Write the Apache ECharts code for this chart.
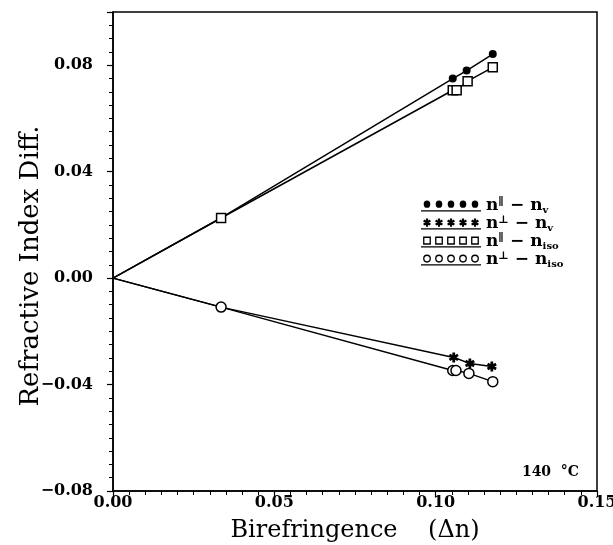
<!DOCTYPE html>
<html><head><meta charset="utf-8">
<script src="https://cdn.jsdelivr.net/npm/echarts@6/dist/echarts.min.js"></script>
<style>html,body{margin:0;padding:0;background:#fff}#c{width:613px;height:545px}</style>
</head><body><div id="c"></div>
<script>
// Data
const parNvX  = [0, 0.0335, 0.1053, 0.1096, 0.1177];
const parNvY  = [0, 0.0226, 0.0750, 0.0780, 0.0842];
const perpNvX = [0, 0.0335, 0.1056, 0.1106, 0.1174];
const perpNvY = [0, -0.0109, -0.0298, -0.0321, -0.0332];
const parIsoX = [0, 0.0335, 0.1053, 0.1065, 0.1099, 0.1177];
const parIsoY = [0, 0.0226, 0.0706, 0.0706, 0.0740, 0.0792];
const perpIsoX = [0, 0.0335, 0.1053, 0.1063, 0.1103, 0.1177];
const perpIsoY = [0, -0.0109, -0.0347, -0.0347, -0.0358, -0.0389];
const seriesNames = ['s1','s2','s3','s4'];
const xTitle = 'Birefringence    (\u0394n)';
const yTitle = 'Refractive Index Diff.';
const tempLabel = '140  \u00B0C';

const serif = 'DejaVu Serif';
const W = 1.4; // asterisk arm half-width
function starPath(cx, cy, s){
  const arms = [0, 60, -60].map(a => {
    const r = a*Math.PI/180, d=[Math.sin(r), -Math.cos(r)], p=[Math.cos(r), Math.sin(r)];
    const pt=(u,v)=>`${(cx+(d[0]*u+p[0]*v)*s).toFixed(3)},${(cy+(d[1]*u+p[1]*v)*s).toFixed(3)}`;
    return `M${pt(-5,-W)}L${pt(5,-W)}L${pt(5,W)}L${pt(-5,W)}Z`;
  });
  return arms.join(' ');
}
const star = 'path://' + starPath(0,0,1);

function mk(xs, ys){
  return xs.map((x,i)=> i===0 ? {value:[x, ys[i]], symbol:'none'} : [x, ys[i]]);
}
// legend icons: five markers with an underline
function rowIcon(kind){
  let p = '';
  const h = 6.5;
  for (let k=0;k<5;k++){
    const cx = 10 + k*20, cy = 6.5;
    if (kind==='fc') p += `M${cx-5.5},${cy}a5.5,5.5 0 1,0 11,0a5.5,5.5 0 1,0 -11,0Z `;
    if (kind==='oc') p += `M${cx-h},${cy}a${h},${h} 0 1,0 ${2*h},0a${h},${h} 0 1,0 ${-2*h},0Z M${cx-4.3},${cy}a4.3,4.3 0 1,1 8.6,0a4.3,4.3 0 1,1 -8.6,0Z `;
    if (kind==='sq') p += `M${cx-h},${cy-h}h${2*h}v${2*h}h${-2*h}Z M${cx-4.3},${cy-4.3}v8.6h8.6v-8.6Z `;
    if (kind==='st') p += starPath(cx, cy, 1.3) + ' ';
  }
  p += 'M0,15.5L100,15.5L100,17.5L0,17.5Z';
  return 'path://' + p;
}
const labels = {
  s1: '{n|n}{sup|\u2225}{t| \u2212 n}{sub|v}',
  s2: '{n|n}{sup|\u22A5}{t| \u2212 n}{sub|v}',
  s3: '{n|n}{sup|\u2225}{t| \u2212 n}{sub|iso}',
  s4: '{n|n}{sup|\u22A5}{t| \u2212 n}{sub|iso}'
};

const chart = echarts.init(document.getElementById('c'), null, {renderer:'canvas'});
const lineStyle = {color:'#000', width:1.5};
const fmt = v => v.toFixed(2).replace('-', '\u2212');
chart.setOption({
  animation:false,
  backgroundColor:'#fff',
  grid:{left:113, right:16, top:12, bottom:54, show:true, borderColor:'#000', borderWidth:1.5,
    outerBoundsMode:'none', containLabel:false},
  xAxis:{
    type:'value', min:0, max:0.15, interval:0.05,
    name:xTitle, nameLocation:'middle', nameGap:28,
    nameTextStyle:{fontFamily:serif, fontSize:24, color:'#000'},
    axisLine:{onZero:false, lineStyle:{color:'#000', width:1.5}},
    axisTick:{inside:false, length:6, lineStyle:{color:'#000', width:1.2}},
    minorTick:{show:true, splitNumber:10, length:4, lineStyle:{color:'#000', width:1}},
    axisLabel:{fontFamily:serif, fontWeight:'bold', fontSize:16, color:'#000', margin:4,
      formatter:fmt},
    splitLine:{show:false}
  },
  yAxis:{
    type:'value', min:-0.08, max:0.10, interval:0.04,
    axisLine:{onZero:false, lineStyle:{color:'#000', width:1.5}},
    axisTick:{inside:false, length:6, lineStyle:{color:'#000', width:1.2}},
    minorTick:{show:true, splitNumber:8, length:4, lineStyle:{color:'#000', width:1}},
    axisLabel:{fontFamily:serif, fontWeight:'bold', fontSize:16, color:'#000', margin:20,
      showMaxLabel:false, formatter:fmt},
    splitLine:{show:false}
  },
  legend:{
    orient:'vertical', left:416, top:192, itemWidth:60, itemHeight:11, itemGap:0,
    symbolKeepAspect:false,
    data:[
      {name:'s1', icon:rowIcon('fc')},
      {name:'s2', icon:rowIcon('st')},
      {name:'s3', icon:rowIcon('sq')},
      {name:'s4', icon:rowIcon('oc')}
    ],
    itemStyle:{color:'#000', borderWidth:0},
    formatter:name=>labels[name],
    textStyle:{color:'#000', fontFamily:serif, fontWeight:'bold', fontSize:17, padding:[0,0,0,0],
      rich:{
        n:{fontFamily:serif, fontWeight:'bold', fontSize:17, color:'#000', lineHeight:18},
        t:{fontFamily:serif, fontWeight:'bold', fontSize:17, color:'#000', lineHeight:18},
        sup:{fontFamily:serif, fontWeight:'bold', fontSize:11, color:'#000', verticalAlign:'top', lineHeight:12},
        sub:{fontFamily:serif, fontWeight:'bold', fontSize:10, color:'#000', verticalAlign:'bottom', lineHeight:10}
      }}
  },
  graphic:[
    {type:'text', right:34, top:465, style:{text:tempLabel, fontFamily:serif, fontWeight:'bold', fontSize:14, fill:'#000'}},
    {type:'text', x:31, y:266, rotation:Math.PI/2,
      style:{text:yTitle, fontFamily:serif, fontSize:26, fill:'#000', align:'center', verticalAlign:'middle'}}
  ],
  series:[
    {name:'s1', type:'line', data:mk(parNvX,parNvY), symbol:'circle', symbolSize:8,
      itemStyle:{color:'#000'}, lineStyle},
    {name:'s2', type:'line', data:mk(perpNvX,perpNvY), symbol:star, symbolSize:10,
      itemStyle:{color:'#000'}, lineStyle},
    {name:'s3', type:'line', data:mk(parIsoX,parIsoY), symbol:'rect', symbolSize:9,
      itemStyle:{color:'#fff', borderColor:'#000', borderWidth:1.5}, lineStyle},
    {name:'s4', type:'line', data:mk(perpIsoX,perpIsoY), symbol:'circle', symbolSize:10,
      itemStyle:{color:'#fff', borderColor:'#000', borderWidth:1.5}, lineStyle}
  ]
});
</script></body></html>
